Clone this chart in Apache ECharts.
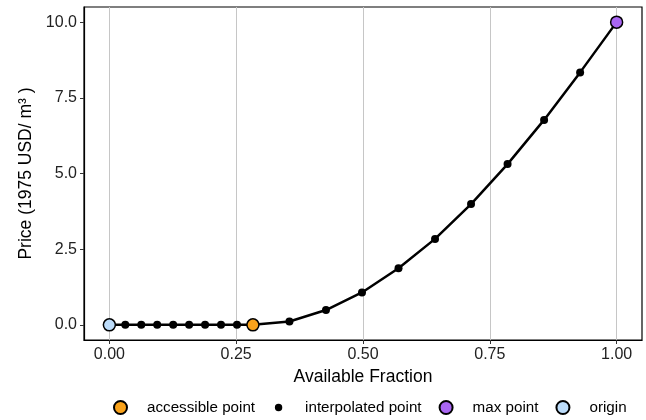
<!DOCTYPE html>
<html>
<head>
<meta charset="utf-8">
<script src="https://cdn.jsdelivr.net/npm/echarts@6/dist/echarts.min.js"></script>
<style>
  html, body { margin: 0; padding: 0; background: #fff; }
  #main { width: 646px; height: 420px; }
</style>
</head>
<body>
<div id="main"></div>
<script>
var myChart = echarts.init(document.getElementById('main'));

var interpX = [0.0314, 0.0629, 0.0943, 0.1258, 0.1572, 0.1887, 0.2201, 0.2516,
               0.355, 0.427, 0.498, 0.570, 0.642, 0.713, 0.785, 0.857, 0.928];
var interpY = [0, 0, 0, 0, 0, 0, 0, 0,
               0.11, 0.49, 1.07, 1.87, 2.84, 3.99, 5.31, 6.77, 8.34];
var originPt = [0, 0];
var accessPt = [0.283, 0];
var maxPt = [1.0, 10.0];

var xTicks = [0, 0.25, 0.5, 0.75, 1.0];
var yTicks = [0, 2.5, 5, 7.5, 10];

var interpData = interpX.map(function (x, i) { return [x, interpY[i]]; });
var pathData = [originPt].concat(interpData, [accessPt, maxPt]);
pathData.sort(function (p, q) { return p[0] - q[0]; });

var font = 'Liberation Sans, Arial, sans-serif';

option = {
    animation: false,
    grid: {
        left: 84, right: 4, top: 7, bottom: 80,
        show: true,
        borderColor: '#000',
        borderWidth: 1.2,
        backgroundColor: '#fff'
    },
    legend: {
        orient: 'horizontal',
        bottom: 5,
        left: 113,
        width: 600,
        padding: 0,
        itemWidth: 13,
        itemHeight: 13,
        itemGap: 17,
        textStyle: { fontFamily: font, fontSize: 15.2, color: '#000', padding: [0, 0, 0, 15] },
        data: [
            { name: 'accessible point', icon: 'circle' },
            { name: 'interpolated point', icon: 'path://M0,0M14,14M7,3a4,4 0 1,0 0.001,0z' },
            { name: 'max point', icon: 'circle' },
            { name: 'origin', icon: 'circle' }
        ]
    },
    xAxis: {
        type: 'value',
        min: -0.05,
        max: 1.05,
        name: 'Available Fraction',
        nameLocation: 'middle',
        nameGap: 26,
        nameTextStyle: { fontFamily: font, fontSize: 17.5, color: '#000' },
        axisLine: { show: true, onZero: false, lineStyle: { color: '#000', width: 1.2 } },
        axisTick: { show: true, length: 4, customValues: xTicks, lineStyle: { color: '#333' } },
        axisLabel: {
            customValues: xTicks,
            margin: 7,
            fontFamily: font, fontSize: 16, color: '#222',
            formatter: function (v) { return v.toFixed(2); }
        },
        splitLine: { show: true, lineStyle: { color: '#c6c6c6', width: 1 } }
    },
    yAxis: {
        type: 'value',
        min: -0.5,
        max: 10.5,
        name: 'Price (1975 USD/ m³ )',
        nameLocation: 'middle',
        nameGap: 44,
        nameRotate: 90,
        nameTextStyle: { fontFamily: font, fontSize: 17.5, color: '#000' },
        axisLine: { show: true, onZero: false, lineStyle: { color: '#000', width: 1.2 } },
        axisTick: { show: true, length: 4, customValues: yTicks, lineStyle: { color: '#333' } },
        axisLabel: {
            customValues: yTicks,
            margin: 7,
            fontFamily: font, fontSize: 16, color: '#222',
            formatter: function (v) { return v.toFixed(1); }
        },
        splitLine: { show: false }
    },
    series: [
        {
            name: 'interpolated point',
            type: 'line',
            data: pathData,
            symbol: 'circle',
            symbolSize: 8,
            showAllSymbol: true,
            itemStyle: { color: '#000' },
            lineStyle: { color: '#000', width: 2.5 },
            z: 2
        },
        {
            name: 'accessible point',
            type: 'scatter',
            data: [accessPt],
            symbolSize: 12,
            itemStyle: { color: '#F9A21B', borderColor: '#000', borderWidth: 1.5, opacity: 1 },
            z: 3
        },
        {
            name: 'max point',
            type: 'scatter',
            data: [maxPt],
            symbolSize: 12,
            itemStyle: { color: '#A966F2', borderColor: '#000', borderWidth: 1.5, opacity: 1 },
            z: 3
        },
        {
            name: 'origin',
            type: 'scatter',
            data: [originPt],
            symbolSize: 12,
            itemStyle: { color: '#BCDCFA', borderColor: '#000', borderWidth: 1.5, opacity: 1 },
            z: 3
        }
    ]
};

myChart.setOption(option);
</script>
</body>
</html>
